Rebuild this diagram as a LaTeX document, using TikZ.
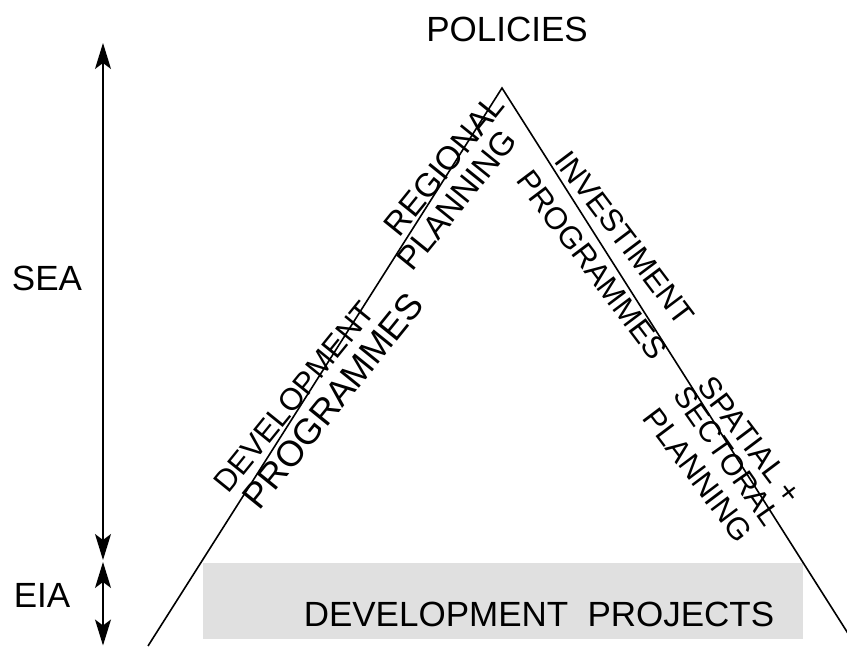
\documentclass[tikz,border=0pt]{standalone}
\usepackage{fontspec}
\setmainfont{Liberation Sans}
\usetikzlibrary{arrows.meta}
\begin{document}
\begin{tikzpicture}[x=1pt,y=1pt,
  big/.style={font=\fontsize{35}{40}\selectfont, inner sep=0pt},
  side/.style={font=\fontsize{31}{36}\selectfont, inner sep=0pt},
  sideL/.style={side, rotate=51},
  sideR/.style={side, rotate=-53},
  edge/.style={line width=1.6pt},
  dbl/.style={line width=1.4pt, {Stealth[length=26pt,width=16pt,inset=6pt]}-{Stealth[length=26pt,width=16pt,inset=6pt]}}]
\useasboundingbox (0,0) rectangle (847,646);
\clip (0,0) rectangle (847,646);
% shaded band
\node[fill=black!12, minimum width=600pt, minimum height=76pt, inner sep=0pt] (band) at (503,45) {};
% triangle
\coordinate (apex) at (502,558);
\coordinate (lbase) at (148,0);
\coordinate (rbase) at (856,0);
\draw[edge] (lbase) -- (apex) -- (rbase);
% scale arrows
\coordinate (seatop) at (103,603);
\coordinate (seabot) at (103,86);
\coordinate (eiatop) at (103,84);
\coordinate (eiabot) at (103,0.5);
\draw[dbl] (seatop) -- (seabot);
\draw[dbl] (eiatop) -- (eiabot);
% labels
\node[big] (policies) at (507,617) {POLICIES};
\node[big] (sea) at (47,368) {SEA};
\node[big] (eia) at (42,51) {EIA};
\node[big] (projects) at (539,32) {DEVELOPMENT\hspace{0.55em}PROJECTS};
% left side labels
\node[sideL, font=\fontsize{33}{38}\selectfont] (regional) at (444,481) {REGIONAL};
\node[sideL, font=\fontsize{33}{38}\selectfont] (planningL) at (457,446) {PLANNING};
\node[sideL] (devel) at (294,249) {DEVELOPMENT};
\node[sideL, font=\fontsize{36}{40}\selectfont] (progL) at (333,245) {PROGRAMMES};
% right side labels
\node[sideR] (invest) at (625,408) {INVESTIMENT};
\node[sideR] (progR) at (592,381) {PROGRAMMES};
\node[sideR] (spatial) at (750,206) {SPATIAL +};
\node[sideR, rotate=-2, font=\fontsize{30}{36}\selectfont] (sectoral) at (727,190) {SECTORAL};
\node[sideR] (planningR) at (698,171) {PLANNING};
\end{tikzpicture}
\end{document}
